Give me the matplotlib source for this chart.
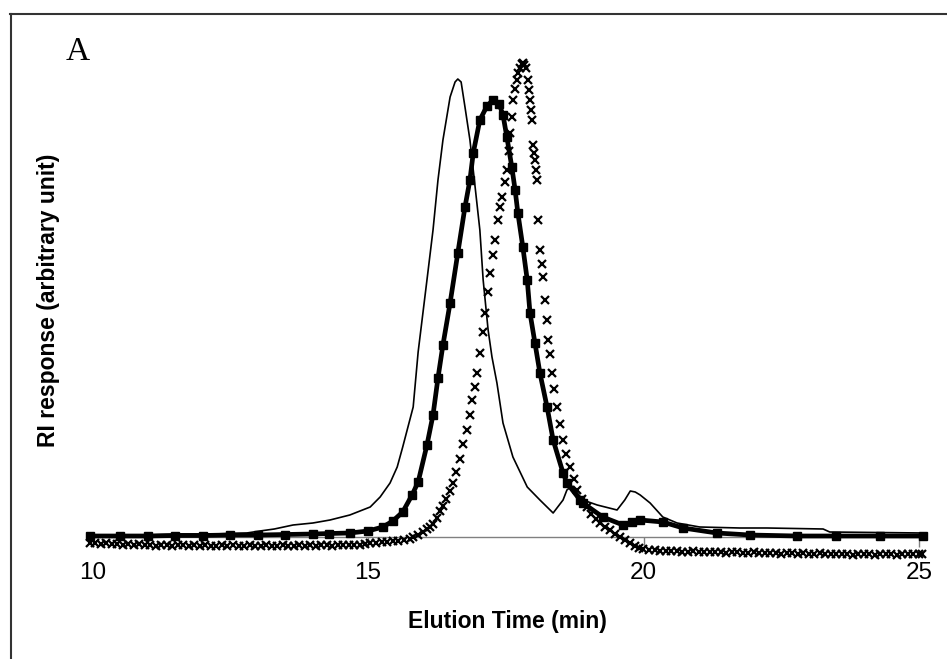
import matplotlib
matplotlib.use('Agg')
import matplotlib.pyplot as plt
from matplotlib.lines import Line2D

# thin line sample (elution time, RI response in arbitrary units)
thin_t = [9.95, 11.0, 11.59, 12.2, 12.80, 13.04, 13.3, 13.64, 14.0, 14.31, 14.67, 15.04, 15.22,
          15.40, 15.53, 15.63, 15.82, 15.91, 16.07, 16.18, 16.27, 16.36, 16.49, 16.58, 16.63,
          16.69, 16.76, 16.85, 16.94, 17.03, 17.09, 17.18, 17.25, 17.34, 17.45, 17.63, 17.89,
          18.12, 18.36, 18.54, 18.61, 18.70, 18.90, 19.16, 19.52, 19.66, 19.76, 19.85, 19.94,
          20.12, 20.35, 20.61, 21.02, 21.75, 22.24, 23.26, 23.38, 25.07]
thin_y = [1, 2, 3, 3, 4, 6, 8, 12, 14, 17, 22, 30, 40,
          54, 70, 90, 130, 185, 257, 307, 357, 397, 440, 455, 458,
          455, 430, 397, 352, 307, 257, 207, 180, 154, 114, 80, 50,
          37, 24, 37, 47, 51, 37, 32, 27, 37, 46, 45, 42,
          34, 20, 14, 10, 9, 9, 8, 5, 4]

# square marker sample
sq_t = [9.95, 10.5, 11.0, 11.5, 12.0, 12.5, 13.0, 13.5, 14.0, 14.3, 14.67, 15.0, 15.27, 15.45,
        15.63, 15.8, 15.91, 16.07, 16.18, 16.27, 16.36, 16.49, 16.63, 16.76, 16.85, 16.91,
        17.03, 17.16, 17.27, 17.38, 17.45, 17.52, 17.61, 17.67, 17.72, 17.81, 17.89, 17.94,
        18.03, 18.12, 18.25, 18.36, 18.54, 18.61, 18.85, 18.90, 19.26, 19.63, 19.79, 19.94,
        20.35, 20.72, 21.33, 21.93, 22.79, 23.5, 24.3, 25.07]
sq_y = [1, 1, 1, 1.5, 1.5, 2, 2, 2.5, 3, 3.5, 4, 6, 10, 16,
        25, 42, 55, 92, 122, 159, 192, 234, 284, 330, 357, 384,
        417, 431, 437, 433, 422, 400, 370, 347, 324, 290, 257, 224,
        194, 164, 130, 97, 64, 54, 37, 34, 20, 12, 15, 17,
        15, 9, 4, 2, 1, 1, 1, 1]

# x marker sample
x_t = [9.95, 10.05, 10.15, 10.25, 10.35, 10.45, 10.55, 10.65, 10.75, 10.85, 10.95,
       11.05, 11.15, 11.25, 11.35, 11.45, 11.55, 11.65, 11.75, 11.85, 11.95,
       12.05, 12.15, 12.25, 12.35, 12.45, 12.55, 12.65, 12.75, 12.85, 12.95,
       13.05, 13.15, 13.25, 13.35, 13.45, 13.55, 13.65, 13.75, 13.85, 13.95,
       14.05, 14.15, 14.25, 14.35, 14.45, 14.55, 14.65, 14.75, 14.85, 14.95,
       15.04, 15.15, 15.25, 15.35, 15.45, 15.55, 15.65, 15.77, 15.82, 15.9, 16.0,
       16.07, 16.13, 16.18, 16.25, 16.31, 16.36, 16.42, 16.49, 16.54, 16.6, 16.67,
       16.73, 16.80, 16.85, 16.89, 16.94, 16.98, 17.03, 17.08, 17.12, 17.17, 17.21,
       17.26, 17.30, 17.36, 17.40, 17.43, 17.48, 17.52, 17.55, 17.58, 17.61, 17.63,
       17.67, 17.70, 17.73, 17.76, 17.79, 17.81, 17.84, 17.87, 17.90, 17.92, 17.94,
       17.96, 17.98, 18.00, 18.02, 18.03, 18.05, 18.07, 18.09, 18.12, 18.15, 18.18,
       18.21, 18.25, 18.27, 18.30, 18.34, 18.38, 18.43, 18.48, 18.54, 18.60, 18.67,
       18.73, 18.79, 18.88, 18.97, 19.05, 19.13, 19.21, 19.30, 19.39, 19.48, 19.57,
       19.66, 19.75, 19.84, 19.92, 19.99,
       20.1, 20.2, 20.3, 20.4, 20.5, 20.6, 20.7, 20.8, 20.9, 21.0,
       21.1, 21.2, 21.3, 21.4, 21.5, 21.6, 21.7, 21.8, 21.9, 22.0,
       22.1, 22.2, 22.3, 22.4, 22.5, 22.6, 22.7, 22.8, 22.9, 23.0,
       23.1, 23.2, 23.3, 23.4, 23.5, 23.6, 23.7, 23.8, 23.9, 24.0,
       24.1, 24.2, 24.3, 24.4, 24.5, 24.6, 24.7, 24.8, 24.9, 25.0, 25.05]
x_y = [-6, -6, -7, -6, -7, -7, -8, -7, -8, -7, -8,
       -8, -9, -8, -8, -9, -8, -8, -9, -8, -9,
       -8, -9, -9, -8, -9, -8, -9, -9, -8, -9,
       -9, -8, -9, -9, -8, -9, -9, -8, -9, -8,
       -9, -8, -8, -9, -8, -8, -8, -8, -8, -7,
       -6, -6, -5, -5, -4, -4, -3, -2, 0, 2, 5,
       8, 10, 13, 19, 26, 31, 38, 46, 54, 65, 78,
       93, 107, 122, 137, 150, 164, 184, 205, 224, 245, 264,
       282, 297, 317, 330, 340, 355, 367, 386, 404, 420, 437,
       448, 457, 464, 469, 473, 474, 472, 469, 457, 447, 437,
       427, 417, 392, 384, 377, 367, 357, 317, 287, 273, 260,
       237, 217, 197, 183, 164, 148, 130, 113, 97, 83, 70,
       58, 47, 38, 30, 23, 18, 14, 10, 7, 3, 0,
       -3, -6, -9, -11, -12,
       -13, -13, -14, -14, -14, -14, -15, -15, -14, -15,
       -15, -15, -15, -15, -16, -15, -15, -16, -16, -15,
       -16, -16, -16, -16, -17, -16, -16, -17, -16, -17,
       -17, -16, -17, -17, -17, -17, -17, -18, -17, -17,
       -17, -18, -17, -17, -17, -18, -17, -17, -17, -17, -17]

xticks = [10, 15, 20, 25]

W, H = 947, 659
fig = plt.figure(figsize=(W / 100, H / 100), dpi=100)
ax = fig.add_axes([92.5 / W, 1 - 562 / H, 826.5 / W, 525 / H])

ax.plot(thin_t, thin_y, color='black', lw=1.2, clip_on=False, zorder=3)
ax.plot(sq_t, sq_y, color='black', lw=3.4, marker='s', ms=5.5, clip_on=False, zorder=3)
ax.plot(x_t, x_y, ls='none', color='black', marker='x', ms=5.5, mew=1.6, clip_on=False, zorder=3)

ax.set_xlim(10, 25)
ax.set_ylim(-25, 500)
ax.set_xticks(xticks)
ax.set_yticks([])
for s in ['top', 'right', 'left']:
    ax.spines[s].set_visible(False)
ax.spines['bottom'].set_position(('data', 0))
ax.spines['bottom'].set_color('#808080')
ax.spines['bottom'].set_linewidth(1)
ax.spines['bottom'].set_zorder(1)
ax.tick_params(axis='x', direction='out', length=7, width=1, color='#808080',
               pad=11, labelsize=17.5)
for lab in ax.get_xticklabels():
    lab.set_family('Liberation Sans')

fig.text(507 / W, 1 - 628 / H, 'Elution Time (min)', ha='center', va='baseline',
         fontsize=16.5, fontweight='bold', family='Liberation Sans')
fig.text(49 / W, 1 - 300 / H, 'RI response (arbitrary unit)', ha='center', va='center',
         rotation=90, fontsize=16.5, fontweight='bold', family='Liberation Sans')
fig.text(78 / W, 1 - 60 / H, 'A', ha='center', va='baseline', fontsize=24,
         family='Liberation Serif')

# outer frame
fig.add_artist(Line2D([10.5 / W, 10.5 / W], [0, 1 - 13.5 / H], color='#333333', lw=1.5))
fig.add_artist(Line2D([10 / W, 1], [1 - 13.5 / H, 1 - 13.5 / H], color='#333333', lw=1.5))

fig.savefig('out.png', dpi=100)
